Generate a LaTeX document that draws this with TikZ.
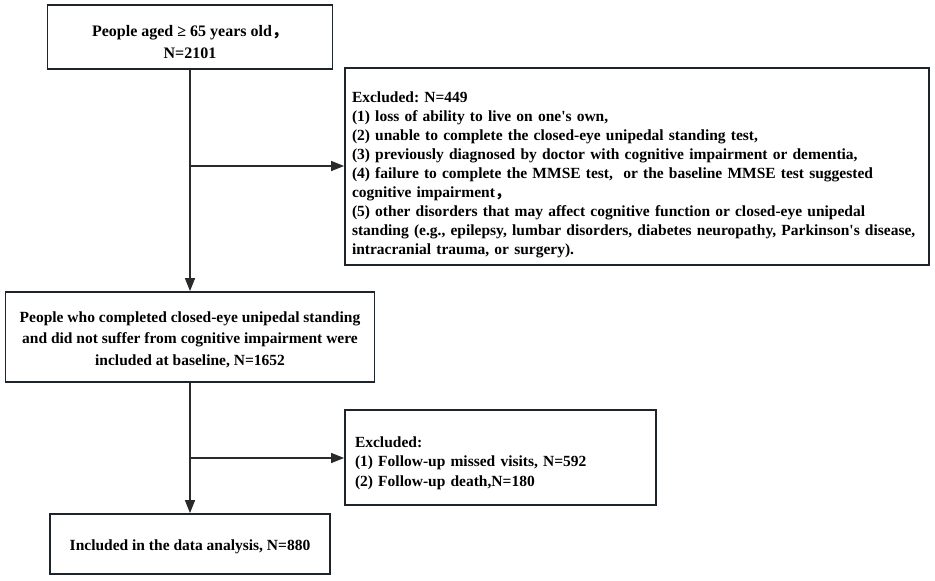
\documentclass[tikz,border=0pt]{standalone}
\usepackage{fontspec}
\setmainfont{Liberation Serif}
\newfontfamily\cjk{Noto Sans CJK SC}
\usetikzlibrary{arrows.meta}
\definecolor{boxc}{HTML}{1E242B}
\definecolor{linec}{HTML}{2A2A2A}
\frenchspacing
\begin{document}
\begin{tikzpicture}[x=1pt,y=-1pt,
  box/.style={draw=boxc, line width=1.8pt, rectangle, inner sep=0pt,
    font=\bfseries\fontsize{15.5}{19.5}\selectfont},
  arr/.style={draw=linec, line width=1.5pt, -{Triangle[length=13pt,width=10pt]}},
]
\useasboundingbox[fill=white] (0,0) rectangle (935,581);
\node[box, minimum width=285pt, minimum height=64pt, align=center,
  font=\bfseries\fontsize{16}{22}\selectfont] (b1) at (190,37)
  {\vphantom{A}\\[-12pt]People aged ≥ 65 years old{\cjk ，}\\N=2101};
\node[box, minimum width=584pt, minimum height=197pt, text width=570pt, align=left, inner xsep=7pt,
  font=\bfseries\fontsize{15.5}{19}\selectfont] (b2) at (637,166.5)
  {\vphantom{A}\\[-2pt]Excluded: N=449\\
   (1) loss of ability to live on one\textquotesingle s own,\\
   (2) unable to complete the closed-eye unipedal standing test,\\
   (3) previously diagnosed by doctor with cognitive impairment or dementia,\\
   (4) failure to complete the MMSE test,\ \ or the baseline MMSE test suggested\\
   cognitive impairment{\cjk ，}\\
   (5) other disorders that may affect cognitive function or closed-eye unipedal\\
   standing (e.g., epilepsy, lumbar disorders, diabetes neuropathy, Parkinson\textquotesingle s disease,\\
   intracranial trauma, or surgery).};
\node[box, minimum width=369pt, minimum height=90pt, align=center,
  font=\bfseries\fontsize{15.5}{21.5}\selectfont] (b3) at (190,337)
  {\vphantom{A}\\[-15.5pt]People who completed closed-eye unipedal standing\\
   and did not suffer from cognitive impairment were\\
   included at baseline, N=1652};
\node[box, minimum width=311pt, minimum height=95pt, text width=291pt, align=left, inner xsep=10pt] (b4) at (500.5,457.5)
  {\vphantom{A}\\[-8pt]Excluded:\\
   (1) Follow-up missed visits, N=592\\
   (2) Follow-up death,N=180};
\node[box, minimum width=280pt, minimum height=60pt, align=center] (b5) at (190,544)
  {\vphantom{A}\\[-13.5pt]Included in the data analysis, N=880};
\coordinate (j1) at (190,166);
\coordinate (j2) at (190,458);
\draw[arr] (b1) -- (b3);
\draw[arr] (j1) -- (j1 -| b2.west);
\draw[arr] (b3) -- (b5);
\draw[arr] (j2) -- (j2 -| b4.west);
\end{tikzpicture}
\end{document}
